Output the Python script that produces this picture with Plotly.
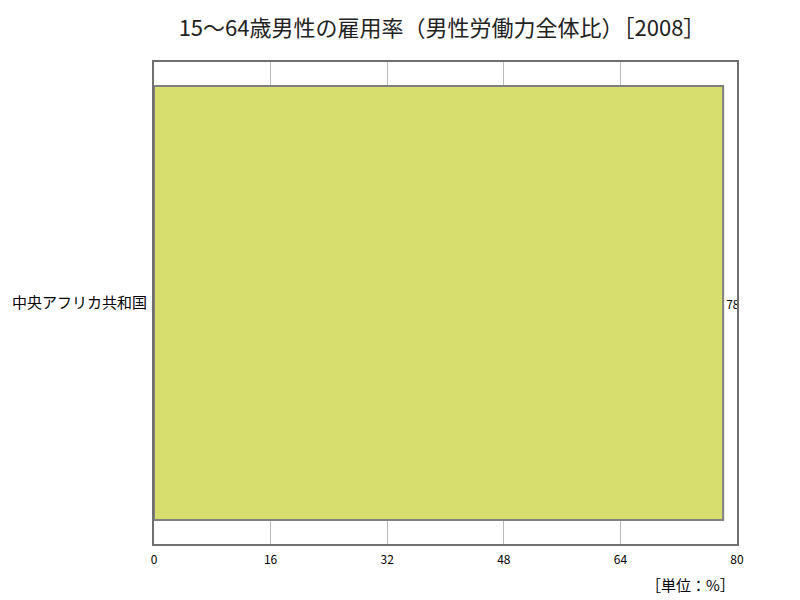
import plotly.graph_objects as go

# data
countries = ["中央アフリカ共和国"]
values = [78.1]
tick_vals = [0, 16, 32, 48, 64, 80]

title = "15～64歳男性の雇用率（男性労働力全体比）［2008］"
unit = "［単位：%］"

fig = go.Figure()
fig.add_trace(go.Bar(
    x=values,
    y=countries,
    orientation="h",
    marker=dict(color="#d8de6e", line=dict(color="#808080", width=2)),
    text=[str(int(v)) for v in values],
    textposition="outside",
    textfont=dict(size=12, color="#000000"),
    cliponaxis=True,
))

# page has ~8px body margin, so shift everything up/left a bit
fig.update_layout(
    width=800, height=600,
    margin=dict(l=146, r=71, t=54, b=64),
    plot_bgcolor="#ffffff",
    paper_bgcolor="#ffffff",
    font=dict(family="Noto Sans CJK JP", color="#000000"),
    title=dict(text=title, x=0.5425, xanchor="center", y=0.967, yanchor="middle",
               font=dict(size=22, color="#222222")),
    bargap=0.1,
    showlegend=False,
    annotations=[dict(text=unit, xref="paper", yref="paper", x=1.0, y=-0.058,
                      xanchor="right", yanchor="top", showarrow=False,
                      font=dict(size=15, color="#000000"))],
)
fig.update_xaxes(
    range=[0, 80], tickvals=tick_vals, showgrid=True, gridcolor="#bbbbbb", gridwidth=1,
    showline=True, linecolor="#707070", linewidth=2, mirror=True, zeroline=False,
    tickfont=dict(size=12), ticks="", ticklabelstandoff=4, automargin=False,
)
fig.update_yaxes(
    showline=True, linecolor="#707070", linewidth=2, mirror=True,
    tickfont=dict(size=15), ticks="", range=[-0.5, 0.5],
    automargin=False, ticklabelstandoff=2,
)

fig.write_html("out.html")
